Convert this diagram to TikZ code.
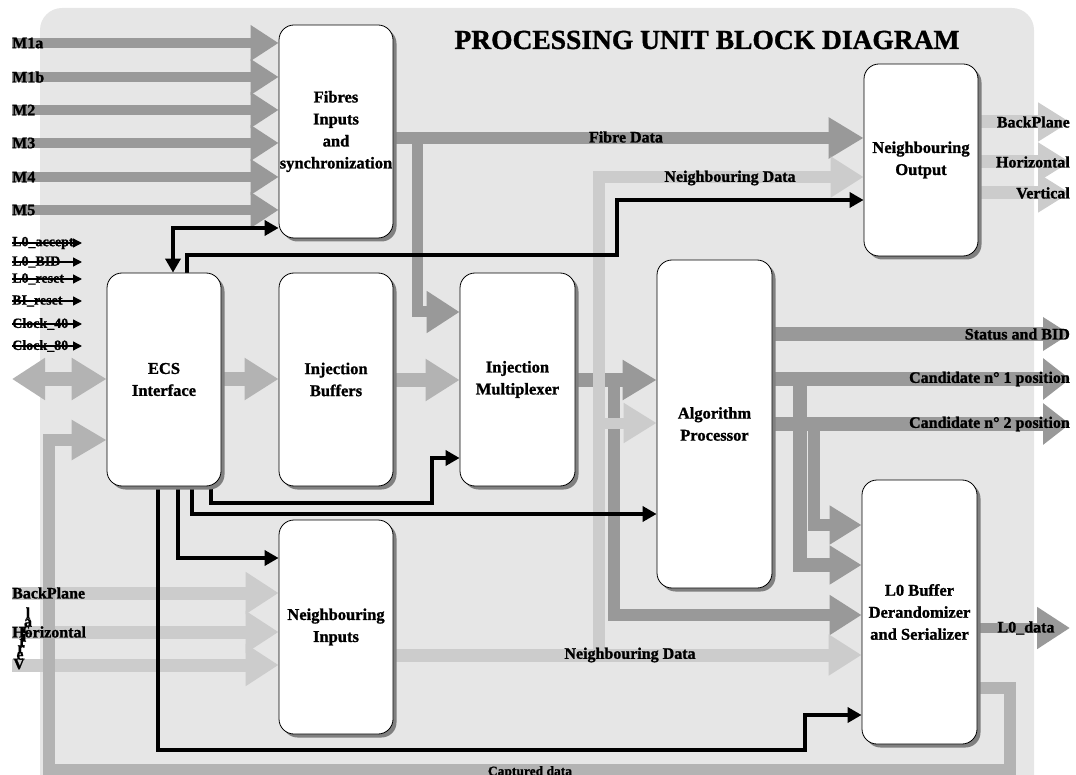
\documentclass[tikz,border=0pt]{standalone}
\usepackage{fontspec}
\setmainfont{Liberation Serif}[BoldFeatures={FakeBold=1.2}]
\usetikzlibrary{arrows.meta,shadows}
\definecolor{panelgray}{HTML}{E6E6E6}
\definecolor{fdark}{HTML}{999999}
\definecolor{fmid}{HTML}{B3B3B3}
\definecolor{flight}{HTML}{CCCCCC}
\definecolor{boxshadow}{HTML}{808080}
\pgfdeclarelayer{panel}
\pgfdeclarelayer{flows}
\pgfdeclarelayer{wires}
\pgfsetlayers{panel,flows,wires,main}
\tikzset{
  block/.style={draw=black, line width=0.8pt, fill=white, rounded corners=15pt,
    minimum width=114pt, inner sep=0pt, align=center,
    font=\fontsize{16.5}{22}\selectfont\bfseries,
    drop shadow={shadow xshift=3.5pt, shadow yshift=-3.5pt, fill=boxshadow, opacity=1}},
  lab/.style={font=\fontsize{16}{18}\selectfont\bfseries, inner sep=0pt},
  small/.style={font=\fontsize{14}{15}\selectfont\bfseries, inner sep=0pt},
  flowbase/.style={line cap=butt, line join=miter},
  mflow/.style={flowbase, draw=fdark, line width=10pt, -{Triangle[length=28pt,width=34pt]}},
  dflow/.style={flowbase, draw=fdark, line width=13pt, -{Triangle[length=33pt,width=39pt]}},
  rflow/.style={flowbase, draw=fdark, line width=14pt, -{Triangle[length=27pt,width=36pt]}},
  cflow/.style={flowbase, draw=fmid, line width=14pt, -{Triangle[length=34pt,width=40pt]}},
  lflow/.style={flowbase, draw=flight, line width=13pt, -{Triangle[length=33pt,width=39pt]}},
  ctl/.style={line width=3.5pt, line join=miter, -{Triangle[length=14pt,width=15pt]}},
  ctlin/.style={line width=1.3pt, -{Triangle[length=9pt,width=9pt]}},
}
\begin{document}
\begin{tikzpicture}[x=1pt, y=-1pt]
\useasboundingbox (0,0) rectangle (1076,775);

% processing blocks
\node[block, minimum height=213pt] (fib) at (336,131.5) {Fibres\\Inputs\\and\\synchronization};
\node[block, minimum height=213pt] (ecs) at (164,379.5) {ECS\\Interface};
\node[block, minimum height=213pt] (ibuf) at (336,379.5) {Injection\\Buffers};
\node[block, minimum height=214pt] (ninp) at (336,627) {Neighbouring\\Inputs};
\node[block, minimum width=115pt, minimum height=213pt] (imux) at (517.5,379.5) {Injection\\Multiplexer};
\node[block, minimum width=115pt, minimum height=328pt] (alg) at (714.5,424) {Algorithm\\Processor};
\node[block, minimum height=192pt] (nout) at (921,160) {Neighbouring\\Output};
\node[block, minimum width=115pt, minimum height=264pt] (l0) at (919.5,612) {L0 Buffer\\Derandomizer\\and Serializer};

% title
\node[font=\fontsize{27.5}{30}\selectfont\bfseries, inner sep=0pt] (title) at (707,40) {PROCESSING UNIT BLOCK DIAGRAM};

% fibre input labels
\node[lab, anchor=west] (m1a) at (12,43) {M1a};
\node[lab, anchor=west] (m1b) at (12,77) {M1b};
\node[lab, anchor=west] (m2) at (12,110) {M2};
\node[lab, anchor=west] (m3) at (12,143) {M3};
\node[lab, anchor=west] (m4) at (12,177) {M4};
\node[lab, anchor=west] (m5) at (12,210) {M5};

% control inputs
\foreach \nm/\txt/\yy in {cin1/L0\_accept/243, cin2/L0\_BID/262, cin3/L0\_reset/279,
                         cin4/BI\_reset/301, cin5/Clock\_40/324, cin6/Clock\_80/346}{
  \node[small, anchor=west] (\nm) at (12,\yy) {\txt};
  \coordinate (\nm-end) at (82,\yy);
  \draw[ctlin] (\nm.west) -- (\nm-end);
}

% neighbouring input labels
\node[lab, anchor=west] (bpin) at (12,593) {BackPlane};
\node[lab, anchor=west] (hzin) at (12,632) {Horizontal};
\coordinate (vtin) at (12,665);
\foreach \i/\ch/\xx/\yy in {1/V/19/664, 2/e/20/656, 3/r/21/649, 4/t/22/642,
                            5/i/24/636, 6/c/26/630, 7/a/28/623, 8/l/28/613}{
  \node[lab] (vch\i) at (\xx,\yy) {\ch};
}

% output labels
\node[lab, anchor=east] (bpout) at (1070,122) {BackPlane};
\node[lab, anchor=east] (hzout) at (1070,162) {Horizontal};
\node[lab, anchor=east] (vtout) at (1070,193) {Vertical};
\node[lab, anchor=east] (stat) at (1070,334) {Status and BID};
\node[lab, anchor=east] (cand1) at (1070,379) {Candidate n° 1 position};
\node[lab, anchor=east] (cand2) at (1070,424) {Candidate n° 2 position};
\node[lab] (l0data) at (1026,628) {L0\_data};

% bus labels
\node[lab] (fibl) at (626,137) {Fibre Data};
\node[lab] (nbtop) at (730,178) {Neighbouring Data};
\node[lab] (nbbot) at (630,655) {Neighbouring Data};
\node[small, font=\fontsize{13.5}{14}\selectfont\bfseries, anchor=north] (capl) at (530,766) {Captured data};

% branch points
\coordinate (fibtap) at (417,138);
\coordinate (muxtap) at (614,380);
\coordinate (nbtap) at (599,655);
\coordinate (c1tap) at (800,379);
\coordinate (c2tap) at (814,424);
\coordinate (ecsio) at (12,379);

\begin{pgfonlayer}{panel}
  \fill[panelgray, rounded corners=22pt] (40,800) -- (40,8) -- (1034,8) -- (1034,800) -- cycle;
\end{pgfonlayer}

\begin{pgfonlayer}{flows}
  % fibre inputs
  \foreach \n in {m1a,m1b,m2,m3,m4,m5}
    \draw[mflow] (\n.west) -- (fib.west |- \n.west);
  % fibre data
  \draw[dflow, line width=12pt, -{Triangle[length=35pt,width=39pt]}] (fib.east |- fibtap) -- (nout.west |- fibtap);
  \draw[dflow, line width=11pt, -{Triangle[length=33pt,width=40pt]}] (fibtap) -- (417,312) -- (imux.west |- 0,312);
  % injection path
  \draw[cflow, {Triangle[length=33pt,width=40pt]}-{Triangle[length=35pt,width=40pt]}] (ecsio) -- (ecs.west |- ecsio);
  \draw[cflow] (ecs.east |- 0,379) -- (ibuf.west |- 0,379);
  \draw[cflow] (ibuf.east |- 0,380) -- (imux.west |- 0,380);
  \draw[dflow, line width=14pt, -{Triangle[length=34pt,width=38pt]}] (imux.east |- muxtap) -- (alg.west |- muxtap);
  \draw[dflow, line width=12pt, -{Triangle[length=32pt,width=38pt]}] (muxtap) -- (614,615) -- (l0.west |- 0,615);
  % neighbouring data
  \foreach \n in {bpin,hzin}
    \draw[lflow, -{Triangle[length=33pt,width=40pt]}] (\n.west) -- (ninp.west |- \n.west);
  \draw[lflow, -{Triangle[length=33pt,width=40pt]}] (vtin) -- (ninp.west |- vtin);
  \draw[lflow] (ninp.east |- nbtap) -- (l0.west |- nbtap);
  \draw[lflow, line width=12pt] (nbtap) -- (599,177) -- (nout.west |- 0,177);
  \draw[lflow, line width=11pt, -{Triangle[length=33pt,width=38pt]}] (599,423) -- (alg.west |- 0,423);
  % neighbouring outputs
  \foreach \n in {bpout,hzout,vtout}
    \draw[lflow, -{Triangle[length=32pt,width=37pt]}] (nout.east |- \n.east) -- (\n.east);
  % algorithm outputs
  \draw[rflow, -{Triangle[length=27pt,width=32pt]}] (alg.east |- stat.east) -- (stat.east);
  \draw[rflow, -{Triangle[length=27pt,width=40pt]}] (alg.east |- cand1.east) -- (cand1.east);
  \draw[rflow, -{Triangle[length=27pt,width=40pt]}] (alg.east |- cand2.east) -- (cand2.east);
  \draw[dflow, line width=14pt, -{Triangle[length=32pt,width=37pt]}] (c1tap) -- (800,565) -- (l0.west |- 0,565);
  \draw[dflow, line width=12pt, -{Triangle[length=32pt,width=37pt]}] (c2tap) -- (814,525) -- (l0.west |- 0,525);
  % serial output
  \draw[dflow, line width=10pt, -{Triangle[length=33pt,width=40pt]}] (l0.east |- l0data) -- (1070,628);
  % captured data loop
  \draw[cflow, line width=12pt, -{Triangle[length=35pt,width=38pt]}]
    (l0.east |- 0,688) -- (1010,688) -- (1010,770) -- (49,770) -- (49,440) -- (ecs.west |- 0,440);
\end{pgfonlayer}

\begin{pgfonlayer}{wires}
  \draw[ctl, {Triangle[length=14pt,width=15pt]}-{Triangle[length=14pt,width=15pt]}]
    (ecs.north -| 173,0) -- (173,228) -- (fib.west |- 0,228);
  \draw[ctl] (ecs.north -| 187,0) -- (187,255) -- (617,255) -- (617,200) -- (nout.west |- 0,200);
  \draw[ctl] (ecs.south -| 211,0) -- (211,503) -- (432,503) -- (432,458) -- (imux.west |- 0,458);
  \draw[ctl] (ecs.south -| 192,0) -- (192,514) -- (alg.west |- 0,514);
  \draw[ctl] (ecs.south -| 178,0) -- (178,558) -- (ninp.west |- 0,558);
  \draw[ctl] (ecs.south -| 158,0) -- (158,750) -- (805,750) -- (805,715) -- (l0.west |- 0,715);
\end{pgfonlayer}
\end{tikzpicture}
\end{document}
